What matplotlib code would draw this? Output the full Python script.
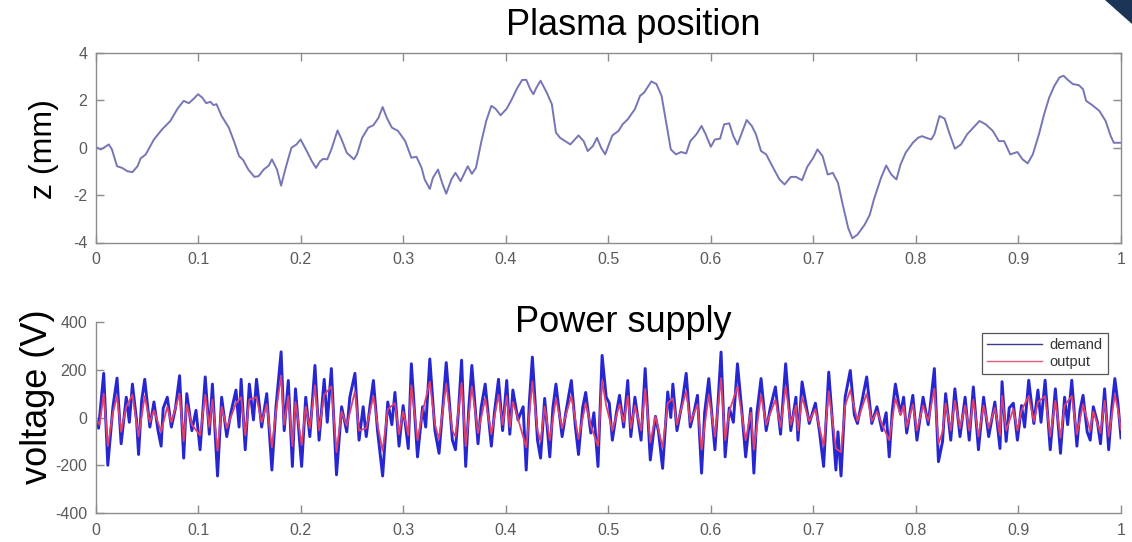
import numpy as np
import matplotlib
matplotlib.use("Agg")
import matplotlib.pyplot as plt
from matplotlib.patches import Polygon

plt.rcParams['font.family'] = ['Liberation Sans', 'DejaVu Sans']
plt.rcParams['axes.unicode_minus'] = False

# plasma vertical position z (mm) against time
z_t = [0.000, 0.005, 0.008, 0.013, 0.016, 0.021, 0.026, 0.031, 0.036, 0.041, 0.044, 0.049,
       0.057, 0.065, 0.073, 0.080, 0.086, 0.091, 0.096, 0.100, 0.104, 0.108, 0.112, 0.115,
       0.118, 0.123, 0.130, 0.135, 0.140, 0.144, 0.149, 0.155, 0.159, 0.164, 0.169, 0.172,
       0.177, 0.181, 0.185, 0.191, 0.196, 0.200, 0.206, 0.211, 0.215, 0.219, 0.222, 0.226,
       0.230, 0.236, 0.240, 0.245, 0.252, 0.255, 0.260, 0.266, 0.271, 0.276, 0.280, 0.284,
       0.289, 0.295, 0.302, 0.308, 0.313, 0.318, 0.321, 0.326, 0.329, 0.334, 0.338, 0.342,
       0.347, 0.351, 0.356, 0.363, 0.367, 0.371, 0.376, 0.381, 0.386, 0.390, 0.395, 0.401,
       0.406, 0.411, 0.416, 0.420, 0.424, 0.427, 0.430, 0.434, 0.440, 0.445, 0.449, 0.453,
       0.458, 0.463, 0.471, 0.476, 0.480, 0.485, 0.489, 0.493, 0.497, 0.500, 0.504, 0.510,
       0.514, 0.519, 0.526, 0.531, 0.535, 0.542, 0.547, 0.552, 0.557, 0.561, 0.566, 0.571,
       0.576, 0.580, 0.586, 0.591, 0.595, 0.600, 0.604, 0.609, 0.613, 0.618, 0.622, 0.626,
       0.631, 0.635, 0.640, 0.644, 0.649, 0.654, 0.660, 0.667, 0.672, 0.678, 0.683, 0.689,
       0.694, 0.700, 0.704, 0.709, 0.714, 0.719, 0.724, 0.729, 0.734, 0.738, 0.743, 0.750,
       0.755, 0.759, 0.766, 0.771, 0.776, 0.781, 0.785, 0.790, 0.797, 0.802, 0.806, 0.810,
       0.815, 0.818, 0.823, 0.828, 0.833, 0.838, 0.844, 0.850, 0.856, 0.862, 0.868, 0.875,
       0.881, 0.886, 0.892, 0.899, 0.904, 0.909, 0.914, 0.920, 0.925, 0.930, 0.935, 0.940,
       0.944, 0.948, 0.953, 0.959, 0.963, 0.966, 0.972, 0.979, 0.985, 0.990, 0.993, 1.000]
z_mm = [0.04, -0.07, 0.00, 0.14, -0.07, -0.78, -0.85, -0.99, -1.03, -0.78, -0.45, -0.28,
        0.35, 0.78, 1.13, 1.65, 1.98, 1.88, 2.08, 2.26, 2.12, 1.88, 1.94, 1.80,
        1.84, 1.34, 0.85, 0.28, -0.35, -0.52, -0.92, -1.23, -1.20, -0.92, -0.75, -0.49,
        -0.92, -1.60, -0.92, 0.00, 0.14, 0.35, -0.14, -0.57, -0.85, -0.57, -0.47, -0.49,
        -0.07, 0.73, 0.35, -0.21, -0.49, -0.28, 0.42, 0.85, 0.95, 1.27, 1.72, 1.27,
        0.85, 0.71, 0.28, -0.42, -0.38, -0.85, -1.34, -1.74, -1.27, -0.92, -1.48, -1.94,
        -1.34, -1.06, -1.41, -0.78, -1.10, -0.85, 0.21, 1.13, 1.77, 1.65, 1.37, 1.65,
        2.05, 2.50, 2.86, 2.87, 2.47, 2.26, 2.54, 2.83, 2.33, 1.84, 0.64, 0.42,
        0.28, 0.14, 0.52, 0.28, -0.14, 0.07, 0.42, 0.00, -0.28, 0.07, 0.52, 0.71,
        0.99, 1.20, 1.63, 2.19, 2.33, 2.80, 2.69, 2.19, 0.92, -0.07, -0.28, -0.18,
        -0.24, 0.28, 0.57, 0.92, 0.57, 0.04, 0.35, 0.38, 0.99, 1.03, 0.49, 0.14,
        0.71, 1.17, 0.92, 0.57, -0.14, -0.28, -0.78, -1.34, -1.55, -1.23, -1.23, -1.37,
        -0.81, -0.42, -0.07, -0.35, -1.13, -1.06, -1.48, -2.47, -3.39, -3.82, -3.67, -3.25,
        -2.83, -2.19, -1.27, -0.75, -1.13, -1.34, -0.71, -0.21, 0.21, 0.42, 0.49, 0.42,
        0.35, 0.57, 1.34, 1.23, 0.57, -0.04, 0.14, 0.57, 0.85, 1.13, 0.99, 0.71,
        0.28, 0.28, -0.28, -0.18, -0.49, -0.66, -0.28, 0.57, 1.41, 2.12, 2.61, 2.97,
        3.04, 2.87, 2.69, 2.64, 2.47, 1.98, 1.80, 1.55, 1.13, 0.49, 0.21, 0.21]

# power supply voltage demand (V)
demand_t = [0.000, 0.003, 0.008, 0.012, 0.017, 0.021, 0.025, 0.030, 0.033, 0.036, 0.040, 0.042,
            0.045, 0.048, 0.053, 0.057, 0.061, 0.064, 0.066, 0.070, 0.074, 0.078, 0.082, 0.086,
            0.089, 0.094, 0.098, 0.102, 0.107, 0.111, 0.114, 0.119, 0.123, 0.128, 0.132, 0.137,
            0.140, 0.142, 0.146, 0.150, 0.154, 0.157, 0.162, 0.167, 0.172, 0.176, 0.181, 0.184,
            0.188, 0.192, 0.195, 0.201, 0.205, 0.209, 0.214, 0.218, 0.223, 0.226, 0.230, 0.235,
            0.240, 0.245, 0.248, 0.253, 0.257, 0.261, 0.264, 0.268, 0.271, 0.275, 0.280, 0.285,
            0.289, 0.292, 0.296, 0.300, 0.305, 0.308, 0.314, 0.319, 0.322, 0.326, 0.331, 0.335,
            0.339, 0.342, 0.348, 0.351, 0.354, 0.357, 0.361, 0.364, 0.367, 0.373, 0.376, 0.380,
            0.386, 0.389, 0.393, 0.397, 0.401, 0.404, 0.407, 0.412, 0.417, 0.420, 0.423, 0.426,
            0.431, 0.434, 0.438, 0.443, 0.446, 0.449, 0.455, 0.459, 0.464, 0.468, 0.471, 0.475,
            0.478, 0.483, 0.486, 0.490, 0.494, 0.498, 0.501, 0.504, 0.508, 0.511, 0.515, 0.519,
            0.522, 0.526, 0.532, 0.536, 0.541, 0.546, 0.549, 0.553, 0.558, 0.561, 0.563, 0.567,
            0.572, 0.576, 0.580, 0.584, 0.587, 0.591, 0.594, 0.598, 0.604, 0.607, 0.610, 0.614,
            0.618, 0.622, 0.626, 0.630, 0.634, 0.639, 0.642, 0.645, 0.649, 0.654, 0.658, 0.663,
            0.668, 0.673, 0.678, 0.683, 0.685, 0.689, 0.696, 0.702, 0.706, 0.710, 0.715, 0.719,
            0.722, 0.724, 0.727, 0.731, 0.736, 0.740, 0.743, 0.747, 0.752, 0.757, 0.762, 0.767,
            0.771, 0.774, 0.777, 0.780, 0.785, 0.788, 0.791, 0.797, 0.801, 0.807, 0.812, 0.818,
            0.822, 0.826, 0.829, 0.834, 0.838, 0.843, 0.848, 0.852, 0.856, 0.861, 0.866, 0.871,
            0.877, 0.882, 0.884, 0.888, 0.891, 0.895, 0.899, 0.903, 0.906, 0.910, 0.915, 0.919,
            0.922, 0.926, 0.931, 0.936, 0.941, 0.945, 0.948, 0.952, 0.957, 0.960, 0.963, 0.967,
            0.970, 0.973, 0.977, 0.980, 0.984, 0.988, 0.991, 0.994, 0.997, 1.000]
demand_v = [-10, -45, 185, -200, 45, 165, -110, 85, -20, 140, -10, -155,
            70, 160, -40, 65, -55, -120, 38, 85, -40, 40, 175, -170,
            100, -55, 30, -135, 170, -70, 140, -245, 85, -80, 20, 115,
            -40, 160, -135, 140, -10, 160, -40, 100, -220, 45, 275, -55,
            155, -205, 120, -205, 85, -80, 218, -95, 160, -20, 205, -240,
            45, -60, 85, 185, -95, 45, -80, 60, 155, -55, -245, 65,
            -30, 105, -120, 50, -130, 225, -165, 45, -40, 245, -55, -150,
            60, 230, -95, -135, 30, 240, -205, 40, 218, -110, 40, 140,
            -120, 20, 160, -55, 155, -70, 115, -10, 45, -220, 60, 253,
            -95, -170, 80, -165, 40, 140, -80, 30, 155, -40, -155, 40,
            105, -65, 20, -205, 260, 85, 60, -95, 20, 93, -40, 155,
            -80, 85, -95, 205, -178, 5, -60, -213, 107, 0, 140, -55,
            60, 185, -40, 30, 93, -233, 20, 163, -135, 60, 274, -165,
            40, -20, 225, 40, -165, 38, -233, 20, 163, -55, 40, 128,
            -70, 225, -55, 85, -95, 149, -25, 60, -60, -205, 190, -40,
            -220, -60, -245, 85, 197, 10, -25, 60, 170, -25, 45, -55,
            20, -165, 30, 140, 15, 85, -65, 93, -95, 85, -30, 205,
            -185, -100, 100, -95, 120, -80, 85, -95, 128, -135, 85, -80,
            65, -130, 150, -100, 40, 60, -95, 50, -40, 156, -25, 115,
            -20, 156, -135, 120, -150, 85, -30, 156, -120, 30, 93, -60,
            -95, 45, -20, -110, 120, -135, 40, 163, 60, -85]

# power supply voltage output (V)
output_t = [0.000, 0.004, 0.008, 0.012, 0.017, 0.021, 0.025, 0.030, 0.036, 0.042, 0.048, 0.053,
            0.057, 0.064, 0.070, 0.074, 0.082, 0.086, 0.089, 0.094, 0.102, 0.107, 0.111, 0.114,
            0.119, 0.123, 0.128, 0.137, 0.142, 0.146, 0.150, 0.157, 0.162, 0.167, 0.172, 0.176,
            0.181, 0.184, 0.188, 0.192, 0.195, 0.201, 0.205, 0.209, 0.214, 0.218, 0.223, 0.230,
            0.235, 0.240, 0.245, 0.253, 0.257, 0.264, 0.271, 0.275, 0.280, 0.285, 0.292, 0.296,
            0.300, 0.305, 0.308, 0.314, 0.319, 0.326, 0.331, 0.335, 0.342, 0.348, 0.351, 0.357,
            0.361, 0.367, 0.373, 0.380, 0.386, 0.393, 0.397, 0.401, 0.404, 0.407, 0.412, 0.420,
            0.426, 0.431, 0.434, 0.438, 0.443, 0.449, 0.455, 0.464, 0.471, 0.478, 0.483, 0.490,
            0.494, 0.498, 0.504, 0.511, 0.515, 0.519, 0.522, 0.526, 0.532, 0.536, 0.541, 0.546,
            0.553, 0.558, 0.563, 0.567, 0.576, 0.580, 0.587, 0.591, 0.598, 0.604, 0.610, 0.614,
            0.618, 0.626, 0.634, 0.639, 0.642, 0.649, 0.654, 0.663, 0.668, 0.673, 0.678, 0.683,
            0.685, 0.689, 0.696, 0.702, 0.710, 0.715, 0.719, 0.722, 0.727, 0.731, 0.736, 0.743,
            0.752, 0.757, 0.762, 0.767, 0.774, 0.780, 0.785, 0.788, 0.791, 0.797, 0.801, 0.807,
            0.812, 0.818, 0.822, 0.826, 0.829, 0.834, 0.838, 0.843, 0.848, 0.852, 0.856, 0.861,
            0.866, 0.871, 0.877, 0.882, 0.884, 0.888, 0.895, 0.899, 0.903, 0.910, 0.915, 0.919,
            0.926, 0.931, 0.936, 0.941, 0.945, 0.952, 0.957, 0.963, 0.970, 0.973, 0.980, 0.984,
            0.988, 0.994, 0.997, 1.000]
output_v = [-5, -30, 100, -120, 20, 90, -60, 45, 95, -80, 90, -20,
            30, -60, 45, -20, 100, -100, 55, -30, -75, 95, -40, 75,
            -140, 45, -45, 60, 85, -75, 75, 85, -20, 55, -125, 25,
            175, -30, 90, -120, 65, -115, 45, -45, 135, -55, 95, 130,
            -145, 25, -35, 110, -55, -45, 90, -30, -140, 35, 60, -70,
            25, -75, 135, -95, 25, 150, -30, -90, 140, -55, -80, 145,
            -120, 130, -65, 80, -70, 95, -30, 90, -40, 65, -5, -125,
            150, -55, -100, 45, -95, 80, -45, 90, -90, 60, -35, -120,
            155, 50, -55, 55, -20, 90, -45, 50, -55, 120, -105, 5,
            -125, 60, 80, -30, 110, -20, 55, -135, 95, -80, 165, -95,
            25, 130, -95, 20, -135, 95, -30, 75, -40, 130, -30, 50,
            -55, 85, -15, 35, -120, 110, -25, -130, -145, 50, 115, -15,
            100, -15, 25, -30, -95, 80, 10, 50, -40, 55, -55, 50,
            -15, 120, -110, -60, 60, -55, 70, -45, 50, -55, 75, -80,
            50, -45, 40, -75, 90, -55, 35, -55, 30, 90, -15, 65,
            90, -80, 70, -85, 50, 90, -70, 55, -55, 25, -65, 70,
            -80, 95, 35, -50]

x_ticks = [0, 0.1, 0.2, 0.3, 0.4, 0.5, 0.6, 0.7, 0.8, 0.9, 1]
x_tick_labels = ['0', '0.1', '0.2', '0.3', '0.4', '0.5', '0.6', '0.7', '0.8', '0.9', '1']
z_ticks = [-4, -2, 0, 2, 4]
v_ticks = [-400, -200, 0, 200, 400]

W, H = 1132, 542
fig = plt.figure(figsize=(W / 100, H / 100), dpi=100)
fig.patch.set_facecolor('white')

grey = '#8c8c8c'
tick_grey = '#5a5a5a'


def style_axes(ax, boxed):
    for side, sp in ax.spines.items():
        sp.set_color(grey)
        sp.set_linewidth(1.0)
    if not boxed:
        ax.spines['top'].set_visible(False)
        ax.spines['right'].set_visible(False)
    ax.tick_params(direction='in', length=5.5, width=1.0, color=grey,
                   labelcolor=tick_grey, labelsize=11.5, top=boxed, right=boxed)
    ax.tick_params(axis='x', pad=7)
    ax.tick_params(axis='y', pad=6)
    ax.set_xlim(0, 1)
    ax.set_xticks(x_ticks)
    ax.set_xticklabels(x_tick_labels)


# upper panel: plasma position
ax1 = fig.add_axes([95.5 / W, 1 - 242.5 / H, 1025.5 / W, 189.5 / H])
ax1.plot(z_t, z_mm, color='#7676b6', lw=1.4)
ax1.set_ylim(-4, 4)
ax1.set_yticks(z_ticks)
style_axes(ax1, True)

# lower panel: power supply demand and output
ax2 = fig.add_axes([95.5 / W, 1 - 513 / H, 1025.5 / W, 191 / H])
ax2.plot(demand_t, demand_v, color='#2626d2', lw=2.1, label='demand')
ax2.plot(output_t, output_v, color='#e0406e', lw=1.3, label='output')
ax2.set_ylim(-400, 400)
ax2.set_yticks(v_ticks)
style_axes(ax2, False)

leg = ax2.legend(loc='upper right', bbox_to_anchor=(0.987, 0.945), borderaxespad=0,
                 fontsize=10.5, handlelength=3.8, handletextpad=0.5, fancybox=False,
                 framealpha=1, edgecolor='#555555', borderpad=0.35, labelspacing=0.25)
leg.get_frame().set_linewidth(0.9)
for txt in leg.get_texts():
    txt.set_color('#333333')
leg.get_lines()[0].set_color('#3c3c96')
leg.get_lines()[0].set_linewidth(1.0)
leg.get_lines()[1].set_color('#e0607a')
leg.get_lines()[1].set_linewidth(1.0)

# titles and axis labels as free text
fig.text(633 / W, 1 - 35 / H, 'Plasma position', ha='center', va='baseline',
         fontsize=26, color='black')
fig.text(623 / W, 1 - 331.7 / H, 'Power supply', ha='center', va='baseline',
         fontsize=26, color='black')
fig.text(44 / W, 1 - 149.5 / H, 'z (mm)', ha='center', va='center', rotation=90,
         fontsize=23, color='black')
fig.text(37.5 / W, 1 - 397 / H, 'voltage (V)', ha='center', va='center', rotation=90,
         fontsize=26, color='black')

# slide corner mark
corner = Polygon([(1105 / W, 1.0), (1.0, 1.0), (1.0, 1 - 24 / H)], closed=True,
                 transform=fig.transFigure, facecolor='#1c3557', edgecolor='none')
fig.patches.append(corner)

fig.savefig('out.png', dpi=100)
